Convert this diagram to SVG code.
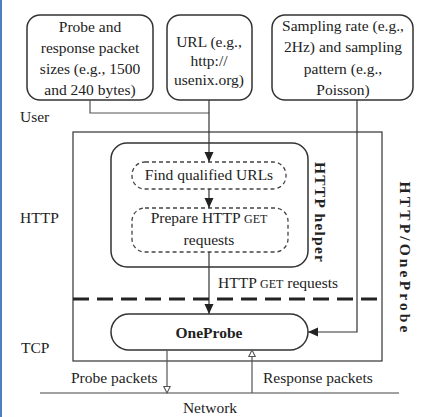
<svg xmlns="http://www.w3.org/2000/svg" width="422" height="417" viewBox="0 0 422 417">
<style>
text{fill:#222;font-size:15.5px}
.c{text-anchor:middle}
.sc{font-size:12px}
.box{fill:#fff;stroke:#333;stroke-width:1.5}
.dbox{fill:#fff;stroke:#444;stroke-width:1.3;stroke-dasharray:4 3}
.ln{fill:none;stroke:#333;stroke-width:1.2}
.gl{fill:none;stroke:#555;stroke-width:1.2}
</style>
<defs>
<marker id="fa" viewBox="0 0 10 10" refX="10" refY="5" markerWidth="10" markerHeight="10" markerUnits="userSpaceOnUse" orient="auto">
<path d="M0,0.5 L10,5 L0,9.5 Z" fill="#222"/>
</marker>
<marker id="oa" viewBox="0 0 10 10" refX="9" refY="5" markerWidth="8" markerHeight="8" markerUnits="userSpaceOnUse" orient="auto">
<path d="M1,1 L9,5 L1,9 Z" fill="#fff" stroke="#555" stroke-width="1.3"/>
</marker>
</defs>
<rect x="0" y="0" width="422" height="417" fill="#fff"/>
<rect x="0" y="0" width="2" height="417" fill="#4a7fc1"/>
<g font-family="Liberation Serif, DejaVu Serif, Times New Roman, serif">
<g id="layer-labels">
<text x="20" y="122">User</text>
<text x="20" y="223">HTTP</text>
<text x="21" y="353">TCP</text>
<text x="210" y="413" class="c">Network</text>
</g>

<g id="httponeprobe">
<rect x="73" y="132" width="309" height="229" fill="none" stroke="#333" stroke-width="1.2"/>
<text transform="translate(400,257) rotate(90)" class="c" font-weight="bold" font-size="18" textLength="151" lengthAdjust="spacing">HTTP/OneProbe</text>
</g>

<g id="http-helper">
<rect x="111" y="143" width="197" height="124" rx="16" class="box" stroke-width="1.3"/>
<text transform="translate(315,212) rotate(90)" class="c" font-weight="bold" font-size="15" textLength="100" lengthAdjust="spacing">HTTP helper</text>
</g>

<g id="sizes">
<rect x="27" y="15" width="126" height="85" rx="13" class="box"/>
<text x="90" y="32" class="c">Probe and</text>
<text x="90" y="53" class="c">response packet</text>
<text x="90" y="74" class="c">sizes (e.g., 1500</text>
<text x="90" y="95" class="c">and 240 bytes)</text>
</g>

<g id="url">
<rect x="167" y="15" width="85" height="85" rx="13" class="box"/>
<text x="209" y="47" class="c">URL (e.g.,</text>
<text x="209" y="66" class="c">http://</text>
<text x="209" y="85" class="c">usenix.org)</text>
</g>

<g id="sampling">
<rect x="272" y="15" width="141" height="85" rx="13" class="box"/>
<text x="343" y="31" class="c">Sampling rate (e.g.,</text>
<text x="343" y="52" class="c">2Hz) and sampling</text>
<text x="343" y="74" class="c">pattern (e.g.,</text>
<text x="343" y="95" class="c">Poisson)</text>
</g>

<g id="find-urls">
<rect x="132" y="162" width="154" height="27" rx="13" class="dbox"/>
<text x="209" y="180" class="c">Find qualified URLs</text>
</g>

<g id="prepare-get">
<rect x="132" y="208" width="156" height="44" rx="13" class="dbox"/>
<text x="209" y="223" class="c">Prepare HTTP <tspan class="sc">GET</tspan></text>
<text x="209" y="245" class="c">requests</text>
</g>

<g id="oneprobe">
<rect x="111" y="314" width="197" height="36" rx="18" class="box" stroke-width="1.3"/>
<text x="209" y="338" class="c" font-weight="bold">OneProbe</text>
</g>

<g id="connectors">
<path d="M90,100 V113 H209" class="gl"/>
<path d="M209,100 V162" class="ln" marker-end="url(#fa)"/>
<path d="M209,189 V208" class="ln" marker-end="url(#fa)"/>
<path d="M209,252 V314" class="ln" marker-end="url(#fa)"/>
<path d="M357,100 V332 H308" class="ln" marker-end="url(#fa)"/>
<line x1="73" y1="299" x2="382" y2="299" stroke="#222" stroke-width="3" stroke-dasharray="16 8"/>
<text x="218" y="288">HTTP <tspan class="sc">GET</tspan> requests</text>
<line x1="40" y1="393" x2="399" y2="393" stroke="#444" stroke-width="1.2"/>
<path d="M167,350 V393" class="gl" marker-end="url(#oa)"/>
<path d="M252,393 V350" class="gl" marker-end="url(#oa)"/>
<text x="71" y="383">Probe packets</text>
<text x="263" y="383">Response packets</text>
</g>
</g>
</svg>
